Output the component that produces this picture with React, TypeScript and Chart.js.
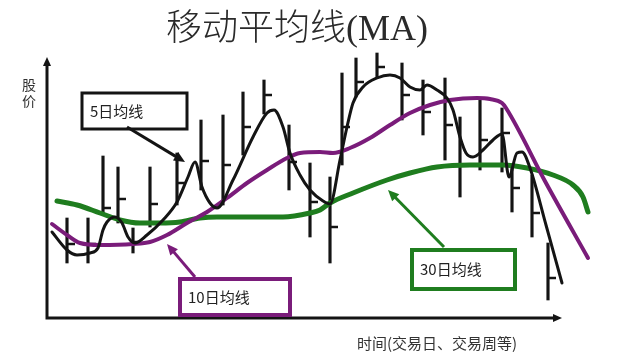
import React, { useEffect, useRef } from "react";
import { Chart, registerables } from "chart.js";

Chart.register(...registerables);

// ---- Data (time units on x, price units on y) ----
const barTimes = [4, 8.2, 11.2, 14.2, 17.2, 20.6, 26, 30.8, 35.2, 39.2, 43.4, 48.4, 52.6, 56.6, 59, 61.8, 66, 71, 75.2, 79.6, 82.6, 86.6, 91, 93, 97, 100.2];
const barLows = [22, 22, 42, 38, 26, 36.4, 45.2, 51.2, 45.2, 65.2, 81.6, 51.2, 32.4, 22, 61.2, 88.4, 96, 79.2, 73.2, 63.2, 48.4, 59.2, 58.4, 42.4, 32.4, 7.2];
const barHighs = [40, 40, 64.8, 60.4, 36, 60.4, 66, 79.2, 81.2, 90.4, 95.2, 77.2, 62, 56.4, 98, 104, 106, 102, 95.2, 96, 80.4, 87.2, 84, 60.4, 57.2, 30];
const barCloses = [29.6, 29.6, 44, 47.6, 30.4, 45.6, 54, 62.8, 61.2, 76.4, 89.2, 62.4, 46.4, 36.4, 76.4, 94.4, 100.4, 89.2, 82.4, 77.2, 61.2, 71.2, 74, 52, 42, 16];

const ma5X = [1, 4, 6, 8.6, 10.2, 11.2, 12, 13.6, 15, 16.2, 17.6, 20, 23.2, 26, 28.2, 29.6, 31, 32.6, 34, 37.2, 41.2, 44, 45.4, 47.2, 48.6, 50.6, 52.6, 55.2, 56.6, 58.6, 60, 61.2, 63.2, 66, 68.6, 70.6, 72.6, 74.6, 76, 78, 80, 81.2, 82.6, 83.8, 85.2, 87.2, 89.2, 91, 92.4, 94, 95, 96.6, 99.8, 103];
const ma5Y = [34.4, 27.2, 25.2, 26, 28, 35.2, 38.4, 40.4, 38, 32.4, 30, 33.2, 39.2, 46.4, 56.4, 62.4, 52.4, 46, 44, 55.2, 72.4, 82, 83.2, 76.4, 66, 57.2, 51.2, 46.8, 45.6, 63.2, 76.4, 86, 92.4, 96, 97.2, 96, 92.4, 91.2, 93.2, 91.2, 88, 83.2, 72.4, 66, 64.4, 67.2, 71.2, 73.6, 56.4, 66, 66.4, 60, 37.2, 14];

const ma10X = [1, 4, 6.6, 10.6, 17.2, 20.6, 24, 28, 32, 36, 40, 44, 48, 50.6, 54.6, 57.2, 60.6, 64.6, 68.6, 72.6, 76.6, 80.6, 86, 88.6, 91, 91.8, 99.8, 108.2];
const ma10Y = [37.6, 33.2, 30, 29.2, 29.6, 30.4, 33.2, 38, 42.4, 48, 54, 59.2, 64, 66, 66.4, 66, 68, 72, 77.2, 82, 85.2, 87.2, 88, 87.6, 86, 84, 54, 24];

const ma30X = [2, 6, 10.6, 14.6, 18.6, 22.6, 26.6, 30.6, 34, 40.6, 47.2, 52.6, 54.6, 56.6, 61.2, 68, 72.6, 78, 84.6, 91.2, 96, 101.2, 105.2, 107.2, 108.2];
const ma30Y = [46.8, 45.2, 42, 39.2, 38, 38, 38.4, 40, 40.4, 40.4, 40.4, 42, 43.2, 46, 50, 55.2, 58, 60.4, 61.2, 61.2, 60, 57.2, 53.2, 48.4, 42.4];

const titleText = "移动平均线(MA)";
const yAxisLabel = ["股", "价"];
const xAxisLabel = "时间(交易日、交易周等)";

const BLACK = "#141414";
const PURPLE = "#7a1c7a";
const GREEN = "#1f7d1f";

// annotation callouts (data coordinates)
const callouts = [
  { text: "5日均线", color: BLACK, lw: 3, box: [7, 90, 28, 75.6], from: [16, 76.4], to: [27.6, 62.4] },
  { text: "10日均线", color: PURPLE, lw: 4, box: [26.6, 15.6, 48.6, 1.2], from: [29.6, 16.4], to: [24, 29.6] },
  { text: "30日均线", color: GREEN, lw: 4, box: [73, 27.2, 93.6, 11.6], from: [79.4, 28.4], to: [68.2, 51.2] },
];

const X_AXIS_END = 103;
const Y_AXIS_END = 104.4;

function arrowHead(ctx: CanvasRenderingContext2D, fx: number, fy: number, tx: number, ty: number, len: number, half: number) {
  const a = Math.atan2(ty - fy, tx - fx);
  ctx.beginPath();
  ctx.moveTo(tx, ty);
  ctx.lineTo(tx - len * Math.cos(a) + half * Math.sin(a), ty - len * Math.sin(a) - half * Math.cos(a));
  ctx.lineTo(tx - len * Math.cos(a) - half * Math.sin(a), ty - len * Math.sin(a) + half * Math.cos(a));
  ctx.closePath();
  ctx.fill();
}

const overlay = {
  id: "overlay",
  beforeDatasetsDraw(chart: any) {
    const { ctx } = chart;
    const xs = chart.scales.x;
    const ys = chart.scales.y;
    const x0 = xs.getPixelForValue(0);
    const y0 = ys.getPixelForValue(0);
    const xe = xs.getPixelForValue(X_AXIS_END);
    const ye = ys.getPixelForValue(Y_AXIS_END);
    ctx.save();
    ctx.strokeStyle = BLACK;
    ctx.fillStyle = BLACK;
    ctx.lineWidth = 3;
    ctx.beginPath();
    ctx.moveTo(x0, y0 + 1.5);
    ctx.lineTo(x0, ye + 6);
    ctx.moveTo(x0 - 1.5, y0);
    ctx.lineTo(xe - 6, y0);
    ctx.stroke();
    arrowHead(ctx, x0, y0, x0, ye, 9, 4);
    arrowHead(ctx, x0, y0, xe, y0, 9, 4);

    // title
    ctx.fillStyle = "#2a2a2a";
    ctx.textAlign = "center";
    ctx.textBaseline = "middle";
    ctx.font = '300 36px "Liberation Serif", "Noto Sans CJK SC"';
    ctx.fillText(titleText, 297, 31);

    // axis labels
    ctx.fillStyle = "#333";
    ctx.font = '14px "Noto Sans CJK SC"';
    ctx.fillText(yAxisLabel[0], 29, 85);
    ctx.fillText(yAxisLabel[1], 29, 101);
    ctx.textAlign = "left";
    ctx.font = '15px "Noto Sans CJK SC"';
    ctx.fillText(xAxisLabel, 357, 343);
    ctx.restore();
  },
  afterDatasetsDraw(chart: any) {
    const { ctx } = chart;
    const xs = chart.scales.x;
    const ys = chart.scales.y;
    ctx.save();
    for (const c of callouts) {
      const l = xs.getPixelForValue(c.box[0]);
      const t = ys.getPixelForValue(c.box[1]);
      const r = xs.getPixelForValue(c.box[2]);
      const b = ys.getPixelForValue(c.box[3]);
      ctx.fillStyle = "#fff";
      ctx.fillRect(l, t, r - l, b - t);
      ctx.strokeStyle = c.color;
      ctx.lineWidth = c.lw;
      ctx.strokeRect(l, t, r - l, b - t);
      ctx.fillStyle = "#222";
      ctx.font = '15px "Noto Sans CJK SC"';
      ctx.textAlign = "left";
      ctx.textBaseline = "middle";
      ctx.fillText(c.text, l + 8, (t + b) / 2);
      // arrow
      const fx = xs.getPixelForValue(c.from[0]);
      const fy = ys.getPixelForValue(c.from[1]);
      const tx = xs.getPixelForValue(c.to[0]);
      const ty = ys.getPixelForValue(c.to[1]);
      const a = Math.atan2(ty - fy, tx - fx);
      ctx.strokeStyle = c.color;
      ctx.fillStyle = c.color;
      ctx.lineWidth = 3;
      ctx.beginPath();
      ctx.moveTo(fx, fy);
      ctx.lineTo(tx - 8 * Math.cos(a), ty - 8 * Math.sin(a));
      ctx.stroke();
      arrowHead(ctx, fx, fy, tx, ty, 11, 5);
    }
    ctx.restore();
  },
};

function toPoints(xs: number[], ys: number[]) {
  return xs.map((x, i) => ({ x, y: ys[i] }));
}

export default function App() {
  const ref = useRef<HTMLCanvasElement | null>(null);
  useEffect(() => {
    if (!ref.current) return;
    const chart = new Chart(ref.current, {
      type: "bar",
      data: {
        datasets: [
          {
            type: "bar",
            label: "high-low",
            data: barTimes.map((t, i) => ({ x: t, y: [barLows[i], barHighs[i]] })) as any,
            backgroundColor: BLACK,
            borderWidth: 0,
            barThickness: 2.5,
            grouped: false,
            clip: false as any,
            order: 5,
          } as any,
          {
            type: "scatter",
            label: "close",
            data: toPoints(barTimes, barCloses),
            pointStyle: "dash",
            pointRadius: 8,
            pointHoverRadius: 8,
            borderColor: BLACK,
            borderWidth: 2.5,
            showLine: false,
            clip: false as any,
            order: 4,
          } as any,
          {
            type: "line",
            label: "30日均线",
            data: toPoints(ma30X, ma30Y),
            borderColor: GREEN,
            borderWidth: 5,
            pointRadius: 0,
            cubicInterpolationMode: "monotone",
            borderCapStyle: "round",
            clip: false as any,
            order: 3,
          } as any,
          {
            type: "line",
            label: "10日均线",
            data: toPoints(ma10X, ma10Y),
            borderColor: PURPLE,
            borderWidth: 4,
            pointRadius: 0,
            cubicInterpolationMode: "monotone",
            borderCapStyle: "round",
            clip: false as any,
            order: 2,
          } as any,
          {
            type: "line",
            label: "5日均线",
            data: toPoints(ma5X, ma5Y),
            borderColor: BLACK,
            borderWidth: 3,
            pointRadius: 0,
            cubicInterpolationMode: "monotone",
            borderCapStyle: "round",
            clip: false as any,
            order: 1,
          } as any,
        ],
      },
      options: {
        animation: false,
        responsive: false,
        events: [],
        layout: { padding: { left: 47, right: 41, top: 58, bottom: 38 } },
        plugins: { legend: { display: false }, tooltip: { enabled: false }, title: { display: false } },
        scales: {
          x: { type: "linear", min: 0, max: 110, display: false, offset: false, grid: { offset: false } },
          y: { type: "linear", min: 0, max: 104, display: false },
        },
      },
      plugins: [overlay],
    });
    return () => chart.destroy();
  }, []);
  return (
    <div style={{ position: "fixed", left: 0, top: 0, width: 638, height: 356, background: "#fff" }}>
      <canvas ref={ref} width={638} height={356} style={{ display: "block" }} />
    </div>
  );
}
